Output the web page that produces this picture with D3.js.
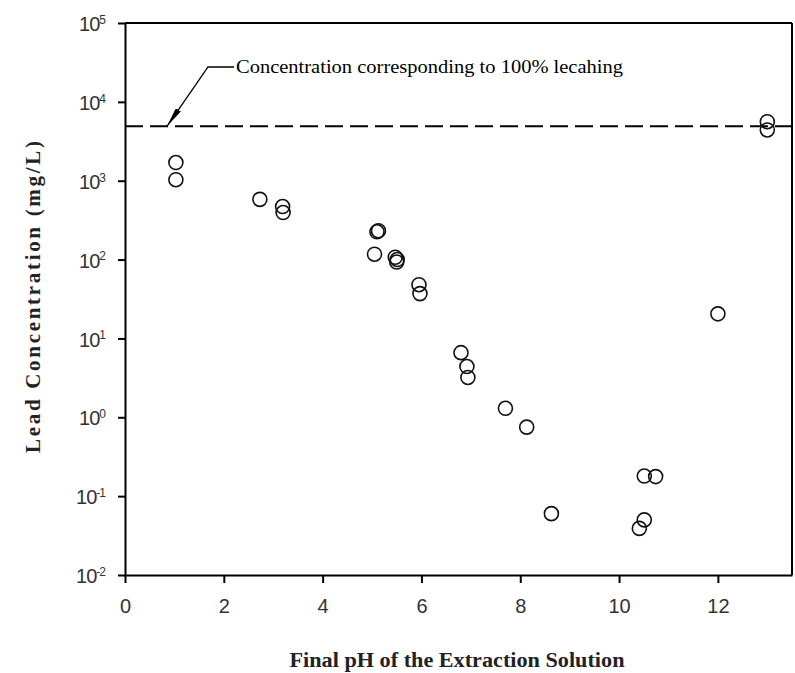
<!DOCTYPE html>
<html>
<head>
<meta charset="utf-8">
<script src="https://cdn.jsdelivr.net/npm/d3@7"></script>
<style>
  body { margin: 0; background: #fff; }
  svg { display: block; }
</style>
</head>
<body>
<script>
// final pH vs lead concentration (mg/L)
var phValues   = [1.03, 1.03, 2.73, 3.19, 3.20, 5.10, 5.13, 5.05, 5.47, 5.51, 5.50, 5.95, 5.97, 6.80, 6.92, 6.94, 7.70, 8.13, 8.63, 10.51, 10.74, 10.51, 10.41, 12.0, 13.0, 13.0];
var leadValues = [1700, 1030, 580, 470, 395, 225, 232, 117, 107, 100, 93, 48, 37, 6.6, 4.4, 3.2, 1.3, 0.75, 0.060, 0.18, 0.177, 0.050, 0.039, 20.5, 5600, 4400];
var fullLeach = 4900;
var xTicks = [0, 2, 4, 6, 8, 10, 12];
var yExponents = [-2, -1, 0, 1, 2, 3, 4, 5];
var annotationText = "Concentration corresponding to 100% lecahing";
var xTitle = "Final pH of the Extraction Solution";
var yTitle = "Lead Concentration (mg/L)";

(function(){
    var width = 795, height = 673;
    var plotLeft = 125, plotRight = 792, plotTop = 23, plotBottom = 575;

    var svg = d3.select("body").append("svg")
        .attr("width", width)
        .attr("height", height);

    var x = d3.scaleLinear().domain([0, 13.5]).range([plotLeft, plotRight]);
    var y = d3.scaleLog().domain([0.01, 100000]).range([plotBottom, plotTop]);

    /*
     * AXES
     */
    var xAxis = svg.append("g")
        .attr("transform", "translate(0," + plotBottom + ")")
        .call(d3.axisBottom(x).tickValues(xTicks).tickSize(8).tickPadding(16).tickSizeOuter(0));
    xAxis.select(".domain").attr("stroke-width", 2);
    xAxis.selectAll(".tick line").attr("stroke-width", 2);
    xAxis.selectAll(".tick text")
        .style("font-family", "Liberation Sans, Arial, sans-serif")
        .style("font-size", "20px")
        .attr("fill", "#333");

    var yAxis = svg.append("g")
        .attr("transform", "translate(" + plotLeft + ",0)")
        .call(d3.axisLeft(y)
            .tickValues(yExponents.map(function(e){ return Math.pow(10, e); }))
            .tickSize(7).tickPadding(8).tickSizeOuter(0)
            .tickFormat(""));
    yAxis.select(".domain").attr("stroke-width", 2);
    yAxis.selectAll(".tick line").attr("stroke-width", 2);
    yAxis.selectAll(".tick").each(function(d){
        var t = d3.select(this).append("text")
            .attr("x", -20)
            .attr("dy", "0.38em")
            .attr("text-anchor", "end")
            .attr("fill", "#333")
            .style("font-family", "Liberation Sans, Arial, sans-serif")
            .style("font-size", "20px")
            .style("letter-spacing", "-1px");
        t.append("tspan").text("10");
        t.append("tspan")
            .attr("dy", "-0.6em")
            .style("font-size", "12px")
            .text(Math.round(Math.log10(d)));
    });

    // top and right frame lines
    svg.append("line")
        .attr("x1", plotLeft).attr("x2", plotRight)
        .attr("y1", plotTop).attr("y2", plotTop)
        .attr("stroke", "#000").attr("stroke-width", 2);
    svg.append("line")
        .attr("x1", plotRight).attr("x2", plotRight)
        .attr("y1", plotTop).attr("y2", plotBottom)
        .attr("stroke", "#000").attr("stroke-width", 2);

    /*
     * 100% LEACHING LINE
     */
    svg.append("line")
        .attr("x1", plotLeft).attr("x2", plotRight)
        .attr("y1", y(fullLeach)).attr("y2", y(fullLeach))
        .attr("stroke", "#000")
        .attr("stroke-width", 2)
        .style("stroke-dasharray", "18,7");

    // annotation with leader arrow
    var tipX = x(0.85), tipY = y(fullLeach);
    var elbowX = 208, elbowY = 67;
    svg.append("defs").append("marker")
        .attr("id", "arrow")
        .attr("viewBox", "0 0 20 6")
        .attr("refX", 20).attr("refY", 3)
        .attr("markerWidth", 20).attr("markerHeight", 6)
        .attr("markerUnits", "userSpaceOnUse")
        .attr("orient", "auto")
        .append("path")
        .attr("d", "M0,0 L20,3 L0,6 Z")
        .attr("fill", "#000");
    svg.append("polyline")
        .attr("points", [[234, elbowY], [elbowX, elbowY], [tipX, tipY]].map(function(p){ return p.join(","); }).join(" "))
        .attr("fill", "none")
        .attr("stroke", "#000")
        .attr("stroke-width", 1.3)
        .attr("marker-end", "url(#arrow)");
    svg.append("text")
        .attr("x", 236)
        .attr("y", 73)
        .attr("textLength", 387)
        .attr("lengthAdjust", "spacingAndGlyphs")
        .style("font-family", "Liberation Serif, Times New Roman, serif")
        .style("font-size", "18px")
        .text(annotationText);

    /*
     * POINTS
     */
    var points = phValues.map(function(p, i){ return {ph: p, lead: leadValues[i]}; });
    svg.append("g").selectAll("circle")
        .data(points)
      .enter().append("circle")
        .attr("cx", function(d){ return x(d.ph); })
        .attr("cy", function(d){ return y(d.lead); })
        .attr("r", 7)
        .attr("fill", "none")
        .attr("stroke", "#111")
        .attr("stroke-width", 1.6);

    /*
     * TITLES
     */
    svg.append("text")
        .attr("x", 457)
        .attr("y", 667)
        .attr("text-anchor", "middle")
        .attr("textLength", 335)
        .attr("lengthAdjust", "spacingAndGlyphs")
        .style("font-family", "Liberation Serif, Times New Roman, serif")
        .style("font-weight", "bold")
        .style("font-size", "20px")
        .attr("fill", "#222")
        .text(xTitle);

    svg.append("text")
        .attr("transform", "translate(40,297) rotate(-90)")
        .attr("text-anchor", "middle")
        .attr("textLength", 312)
        .attr("lengthAdjust", "spacing")
        .style("font-family", "Liberation Serif, Times New Roman, serif")
        .style("font-weight", "bold")
        .style("font-size", "21px")
        .attr("fill", "#222")
        .text(yTitle);
})();
</script>
</body>
</html>
